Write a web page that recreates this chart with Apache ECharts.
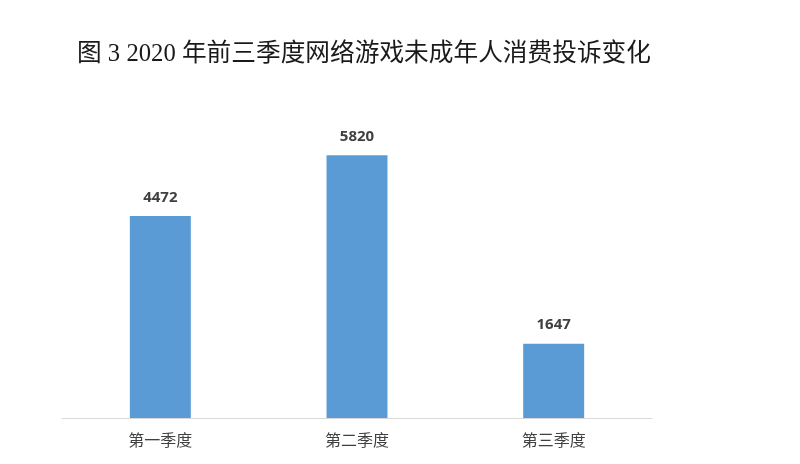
<!DOCTYPE html>
<html>
<head>
<meta charset="utf-8">
<script src="https://cdn.jsdelivr.net/npm/echarts@6/dist/echarts.min.js"></script>
<style>
html,body{margin:0;padding:0;background:#fff;}
#chart{width:800px;height:464px;}
</style>
</head>
<body>
<div id="chart"></div>
<script>
const titleText = '图 3 2020 年前三季度网络游戏未成年人消费投诉变化';
const categories = ['第一季度', '第二季度', '第三季度'];
const complaints = [4472, 5820, 1647];

const chart = echarts.init(document.getElementById('chart'));
chart.setOption({
  backgroundColor: '#ffffff',
  animation: false,
  title: {
    text: titleText,
    left: 72,
    top: 37,
    textStyle: {
      fontFamily: '"Liberation Serif", "Noto Sans CJK SC", serif',
      fontSize: 24.7,
      fontWeight: 'normal',
      color: '#1a1a1a'
    }
  },
  grid: { left: 62, right: 148, top: 102, bottom: 46 },
  xAxis: {
    type: 'category',
    data: categories,
    axisLine: { lineStyle: { color: '#d9d9d9', width: 1 } },
    axisTick: { show: false },
    axisLabel: {
      margin: 14,
      fontSize: 16,
      color: '#404040',
      fontFamily: '"Noto Sans CJK SC", sans-serif'
    }
  },
  yAxis: {
    type: 'value',
    min: 0,
    max: 7000,
    show: false,
    splitLine: { show: false }
  },
  series: [{
    type: 'bar',
    data: complaints,
    barWidth: '31%',
    itemStyle: { color: '#5b9bd5' },
    label: {
      show: true,
      position: 'top',
      distance: 11,
      fontSize: 15,
      fontWeight: 'bold',
      color: '#404040',
      fontFamily: '"Open Sans", "Liberation Sans", sans-serif'
    }
  }]
});
</script>
</body>
</html>
